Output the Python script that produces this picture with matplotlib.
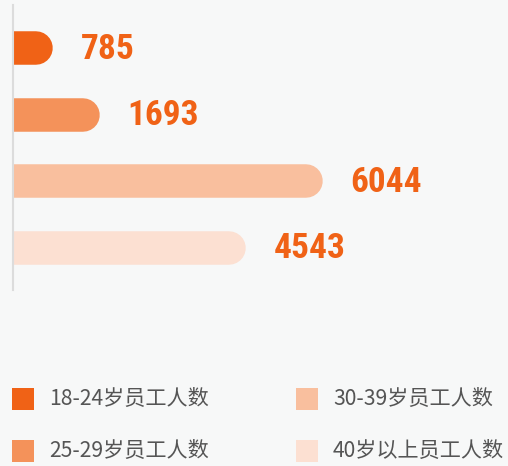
import matplotlib.pyplot as plt
from matplotlib.patches import Rectangle

W, H = 508, 466
DPI = 100

groups = ["18-24岁员工人数", "25-29岁员工人数", "30-39岁员工人数", "40岁以上员工人数"]
counts = [785, 1693, 6044, 4543]
colors = ["#f06216", "#f4925a", "#f9bf9e", "#fce0d2"]

BG = "#f7f8f8"
LABEL_COLOR = "#f06216"
NUM_FONTS = ["Roboto Condensed", "Noto Sans Condensed", "DejaVu Sans Condensed",
             "Liberation Sans Narrow", "Open Sans Condensed", "DejaVu Sans"]

plt.rcParams["font.family"] = ["Noto Sans CJK SC", "DejaVu Sans"]

fig = plt.figure(figsize=(W / DPI, H / DPI), dpi=DPI, facecolor=BG)

# axes: left spine at x=13px, from y=5px to y=290px (measured from top)
ax_left, ax_top, ax_bottom = 13, 5, 290
ax = fig.add_axes([ax_left / W, 1 - ax_bottom / H,
                   1 - ax_left / W, (ax_bottom - ax_top) / H])
ax.set_facecolor(BG)

px_per_unit = 0.0512
xmax = (W - ax_left) / px_per_unit
ax.set_xlim(0, xmax)
# bar centres at 48px from top, 66.5px apart
ax.set_ylim((ax_bottom - 48) / 66.5, -(48 - ax_top) / 66.5)

bar_px = 33.5
r_data = (bar_px / 2) / px_per_unit
for i, (v, c) in enumerate(zip(counts, colors)):
    # thick line with round cap -> bar with rounded right end (left cap clipped)
    ax.plot([0, v - r_data], [i, i], color=c, lw=bar_px * 72 / DPI,
            solid_capstyle="round")
    ax.annotate(str(v), xy=(v, i), xytext=(20, -1), textcoords="offset points",
                ha="left", va="center", color=LABEL_COLOR, fontsize=25.5,
                fontweight="bold", fontstretch="condensed", family=NUM_FONTS)

for s in ["top", "right", "bottom"]:
    ax.spines[s].set_visible(False)
ax.spines["left"].set_color("#dcdcdc")
ax.spines["left"].set_linewidth(1.5)
ax.set_xticks([])
ax.set_yticks([])

# legend, two columns
col_x = [12, 296]
row_y = [398.5, 451]
sq = 22
for k, (lab, c) in enumerate(zip(groups, colors)):
    x0 = col_x[k // 2]
    yc = row_y[k % 2]
    fig.add_artist(Rectangle((x0 / W, 1 - (yc + sq / 2) / H), sq / W, sq / H,
                             transform=fig.transFigure, color=c, lw=0))
    fig.text((x0 + 37) / W, 1 - yc / H, lab, ha="left", va="center",
             fontsize=15.2, color="#555555")

fig.savefig("out.png", dpi=DPI, facecolor=BG)
